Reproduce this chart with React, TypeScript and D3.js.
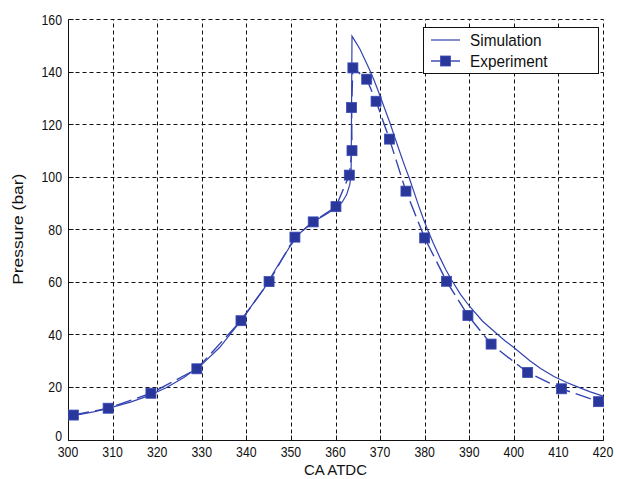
import React from 'react';
import * as d3 from 'd3';

// Simulation curve (CA ATDC, pressure bar)
const simCA = [300, 303, 306, 310, 314, 318, 322, 326, 330, 334, 338, 341, 344, 347, 350, 352, 354, 356, 358, 360, 361.5, 362.5, 363.2, 363.5, 363.6, 363.7, 364.6, 365.5, 366.6, 367.7, 368.7, 369.6, 370.9, 372.2, 373.4, 374.5, 375.5, 376.6, 377.6, 378.6, 379.7, 380.8, 382, 383.4, 384.7, 386, 388, 390, 393, 396, 398, 400, 403.6, 406, 409, 412, 414, 417, 420];
const simP = [8.8, 9.6, 10.6, 12.3, 14.2, 16.6, 19.7, 23.6, 28.5, 35.0, 43.5, 50.5, 57.5, 66.0, 74.0, 78.5, 81.5, 83.8, 85.8, 88.0, 90.3, 93.2, 97.0, 101, 125, 153.5, 151, 148.5, 144.5, 140.5, 136.5, 132.5, 126.5, 120.5, 114.5, 109, 104.2, 99.2, 94.2, 89.2, 84.0, 79.2, 74.5, 69.3, 64.8, 60.8, 55.3, 50.8, 45.0, 40.5, 37.6, 35.0, 30.0, 27.0, 24.0, 21.6, 20.2, 18.2, 16.5];

// Experiment points
const expCA = [301.2, 309.0, 318.6, 328.9, 338.8, 345.1, 350.9, 355.0, 360.1, 363.1, 363.7, 363.6, 363.9, 367.0, 369.1, 372.1, 375.8, 380.0, 384.9, 389.7, 394.9, 403.1, 410.7, 419.0];
const expP = [9.3, 11.9, 17.6, 26.9, 45.2, 60.1, 77.0, 82.8, 88.6, 100.6, 109.9, 126.3, 141.4, 137.1, 128.7, 114.3, 94.5, 76.7, 60.2, 47.2, 36.3, 25.5, 19.3, 14.4];

const xTickValues = [300, 310, 320, 330, 340, 350, 360, 370, 380, 390, 400, 410, 420];
const yTickValues = [0, 20, 40, 60, 80, 100, 120, 140, 160];
const seriesNames = ['Simulation', 'Experiment'];
const xTitle = 'CA ATDC';
const yTitle = 'Pressure (bar)';

const W = 617;
const H = 479;
const LINE = '#3343b0';
const MARK = '#29369a';
const FONT = '"Liberation Sans", Arial, Helvetica, sans-serif';

export default function App() {
  const x = d3.scaleLinear().domain([300, 420]).range([68, 603]);
  const y = d3.scaleLinear().domain([0, 160]).range([439.5, 19]);
  const snap = (v: number) => Math.round(v) + 0.5;

  const simData: [number, number][] = simCA.map((c, i) => [c, simP[i]]);
  const expData: [number, number][] = expCA.map((c, i) => [c, expP[i]]);
  const line = d3
    .line<[number, number]>()
    .x((d) => x(d[0]))
    .y((d) => y(d[1]));

  const left = snap(x(300));
  const bottom = snap(y(0));
  const top = snap(y(160));
  const right = snap(x(420));
  const ms = 10;

  return (
    <svg
      width={W}
      height={H}
      style={{ position: 'absolute', left: 0, top: 0, background: '#fff' }}
      fontFamily={FONT}
    >
      <rect x={0} y={0} width={W} height={H} fill="#fff" />
      {/* grid */}
      <g stroke="#111" strokeWidth={1} strokeDasharray="4,3" fill="none">
        {xTickValues.slice(1).map((v) => (
          <line key={'gx' + v} x1={snap(x(v))} x2={snap(x(v))} y1={bottom} y2={top} />
        ))}
        {yTickValues.slice(1).map((v) => (
          <line key={'gy' + v} x1={left} x2={right} y1={snap(y(v))} y2={snap(y(v))} />
        ))}
      </g>
      {/* ticks */}
      <g stroke="#111" strokeWidth={1}>
        {xTickValues.map((v) => (
          <line key={'tx' + v} x1={snap(x(v))} x2={snap(x(v))} y1={bottom} y2={bottom - 5} />
        ))}
        {yTickValues.map((v) => (
          <line key={'ty' + v} x1={left} x2={left + 5} y1={snap(y(v))} y2={snap(y(v))} />
        ))}
      </g>
      {/* axes */}
      <g stroke="#111" strokeWidth={1}>
        <line x1={left} x2={left} y1={top} y2={bottom} />
        <line x1={left} x2={right} y1={bottom} y2={bottom} />
      </g>
      {/* tick labels */}
      <g fontSize={15} fill="#111">
        {xTickValues.map((v) => (
          <text
            key={'lx' + v}
            transform={`translate(${x(v)},${456.5}) scale(0.82,1)`}
            textAnchor="middle"
          >
            {v}
          </text>
        ))}
        {yTickValues.map((v) => (
          <text
            key={'ly' + v}
            transform={`translate(${62},${Math.min(y(v) + 5.5, 441)}) scale(0.82,1)`}
            textAnchor="end"
          >
            {v}
          </text>
        ))}
      </g>
      {/* axis titles */}
      <text x={x(360)} y={475} fontSize={15} textAnchor="middle" fill="#111">
        {xTitle}
      </text>
      <text
        transform={`translate(23,${(y(0) + y(160)) / 2}) rotate(-90) scale(1.16,1)`}
        fontSize={15}
        textAnchor="middle"
        fill="#111"
      >
        {yTitle}
      </text>
      {/* simulation */}
      <path d={line(simData) || ''} fill="none" stroke={LINE} strokeWidth={1.2} />
      {/* experiment */}
      <path
        d={line(expData) || ''}
        fill="none"
        stroke={LINE}
        strokeWidth={1.4}
        strokeDasharray="16,6"
      />
      {expData.map((d, i) => (
        <rect
          key={'m' + i}
          x={x(d[0]) - ms / 2}
          y={y(d[1]) - ms / 2}
          width={ms}
          height={ms}
          fill={MARK}
          stroke="#3a4ab8"
          strokeWidth={0.8}
        />
      ))}
      {/* legend */}
      <g>
        <rect x={423.5} y={27.5} width={175} height={46} fill="#fff" stroke="#111" strokeWidth={1} />
        <line x1={431} x2={460} y1={40} y2={40} stroke={LINE} strokeWidth={1.2} />
        <line x1={431} x2={460} y1={61} y2={61} stroke={LINE} strokeWidth={1.4} />
        <rect x={445.5 - ms / 2} y={61 - ms / 2} width={ms} height={ms} fill={MARK} stroke="#3a4ab8" strokeWidth={0.8} />
        {seriesNames.map((s, i) => (
          <text
            key={s}
            transform={`translate(470,${46 + i * 21}) scale(0.93,1)`}
            fontSize={16.5}
            fill="#111"
          >
            {s}
          </text>
        ))}
      </g>
    </svg>
  );
}
